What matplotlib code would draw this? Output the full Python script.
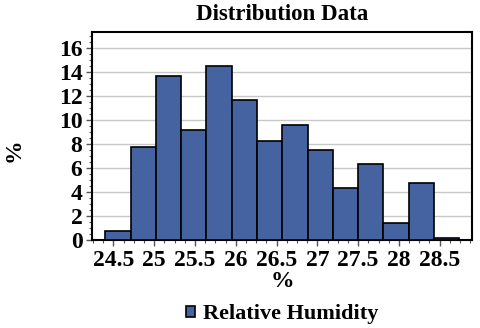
import numpy as np
import matplotlib.pyplot as plt
from matplotlib.ticker import MultipleLocator

plt.rcParams['font.family'] = ['Liberation Serif', 'DejaVu Serif']
plt.rcParams['font.weight'] = 'bold'

# histogram bins (relative humidity, %) and share of samples (%)
bin_start = 24.4
bin_width = 0.31
percent = [0.75, 7.78, 13.64, 9.2, 14.45, 11.69, 8.26, 9.57, 7.5, 4.35, 6.3, 1.4, 4.77, 0.17]
xticks = [24.5, 25, 25.5, 26, 26.5, 27, 27.5, 28, 28.5]
yticks = [0, 2, 4, 6, 8, 10, 12, 14, 16]

lefts = bin_start + bin_width * np.arange(len(percent))

fig = plt.figure(figsize=(4.8, 3.28), dpi=100)
ax = fig.add_axes([0.192, 0.268, 0.792, 0.634])

ax.bar(lefts, percent, width=bin_width, align='edge', color='#4563a0',
       edgecolor='black', linewidth=1.2, zorder=3, label='Relative Humidity')

ax.set_xlim(24.24, 28.9)
ax.set_ylim(0, 17.3)
ax.set_xticks(xticks)
ax.set_xticklabels([f'{v:g}' for v in xticks])
ax.set_yticks(yticks)
ax.xaxis.set_minor_locator(MultipleLocator(0.125))
ax.yaxis.set_minor_locator(MultipleLocator(0.5))
ax.tick_params(axis='both', which='major', labelsize=17, length=4, width=1, color='#555555', pad=3)
ax.tick_params(axis='both', which='minor', length=2, width=0.8, color='#555555')
ax.yaxis.grid(True, color='#c8c8c8', linewidth=1, zorder=0)

for s in ax.spines.values():
    s.set_linewidth(1.5)
    s.set_color('black')

ax.set_title('Distribution Data', fontsize=16.5, fontweight='bold', pad=9)
ax.set_xlabel('%', fontsize=17, fontweight='bold', labelpad=0)
ax.set_ylabel('%', fontsize=17, fontweight='bold', va='center')
ax.yaxis.set_label_coords(-0.205, 0.43)

leg = ax.legend(loc='center', bbox_to_anchor=(0.5, -0.356), frameon=False,
                handlelength=0.4, handleheight=0.4, handletextpad=0.4,
                prop={'weight': 'bold', 'size': 16})

fig.savefig('out.png', dpi=100)
